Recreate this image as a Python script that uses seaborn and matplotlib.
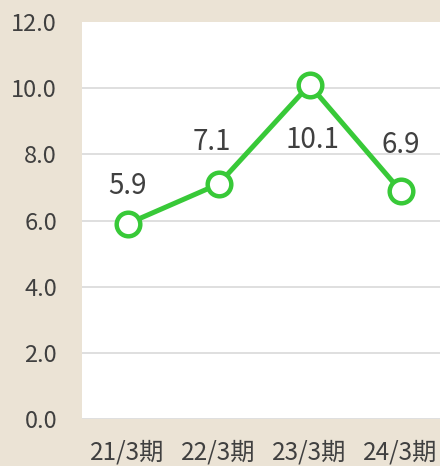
import matplotlib
matplotlib.use("Agg")
import matplotlib.pyplot as plt
import pandas as pd
import seaborn as sns

# Data
periods = ["21/3期", "22/3期", "23/3期", "24/3期"]
values = [5.9, 7.1, 10.1, 6.9]
y_ticks = [0, 2, 4, 6, 8, 10, 12]

df = pd.DataFrame({"period": periods, "value": values})

sns.set_style("white")
plt.rcParams["font.family"] = ["Noto Sans CJK JP", "DejaVu Sans"]

text_color = "#404040"
green = "#38c938"

fig = plt.figure(figsize=(4.4, 4.66), dpi=100, facecolor="#ebe3d5")
ax = fig.add_axes([82 / 440, 47 / 466, 364 / 440, 397 / 466])
ax.set_facecolor("white")

sns.lineplot(
    data=df, x="period", y="value", ax=ax, color=green, linewidth=3.6,
    marker="o", markersize=17, markerfacecolor="white",
    markeredgecolor=green, markeredgewidth=3.2, zorder=3, clip_on=False,
)

# data labels (pixel offsets from each point)
offsets = [(0, 27), (-5, 30), (2, -40), (0, 33)]
for i, (v, off) in enumerate(zip(values, offsets)):
    ax.annotate(f"{v:.1f}", (i, v), xytext=off, textcoords="offset points",
                ha="center", va="center", fontsize=20, color=text_color)

ax.set_xlim(-0.5, 3.5)
ax.set_ylim(0, 12)
ax.set_yticks(y_ticks)
ax.set_yticklabels([f"{t:.1f}" for t in y_ticks])
ax.yaxis.grid(True, color="#d9d9d9", linewidth=1.2)
ax.yaxis.get_gridlines()[-1].set_visible(False)
ax.set_axisbelow(True)
ax.tick_params(axis="y", length=0, pad=18, labelsize=17, labelcolor=text_color)
ax.tick_params(axis="x", length=0, pad=15, labelsize=17.5, labelcolor=text_color)
ax.set_xlabel("")
ax.set_ylabel("")
for s in ax.spines.values():
    s.set_visible(False)

fig.savefig("out.png", dpi=100, facecolor=fig.get_facecolor())
